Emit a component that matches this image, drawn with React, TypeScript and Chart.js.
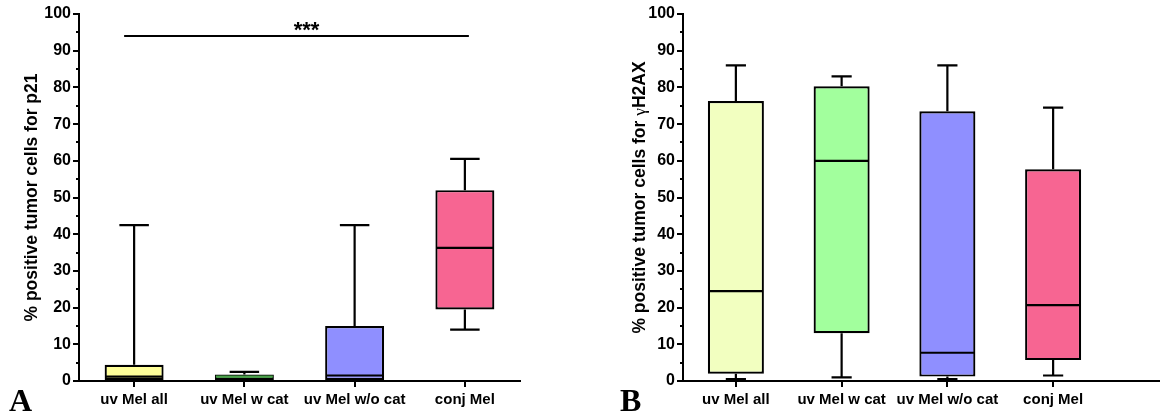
import React, { useEffect, useRef } from 'react';
import { Chart, registerables } from 'chart.js';
Chart.register(...registerables);

const categories = ['uv Mel all', 'uv Mel w cat', 'uv Mel w/o cat', 'conj Mel'];

// Panel A: p21
const p21Min = [0, 0, 0, 14];
const p21Q1 = [0.2, 0.3, 0.3, 19.5];
const p21Median = [1.2, 1.2, 1.5, 36.3];
const p21Q3 = [4.4, 1.8, 15, 52];
const p21Max = [42.5, 2.5, 42.5, 60.5];

// Panel B: gammaH2AX
const h2axMin = [0.5, 1, 0.5, 1.5];
const h2axQ1 = [2, 13, 1.2, 5.7];
const h2axMedian = [24.5, 60, 7.7, 20.7];
const h2axQ3 = [76.3, 80.3, 73.5, 57.7];
const h2axMax = [86, 83, 86, 74.5];

const yTicks = [0, 10, 20, 30, 40, 50, 60, 70, 80, 90, 100];
const sigLevel = 94;
const sigLabel = '***';

const colorsA = ['#ffff99', '#2f5f2f', '#8f8fff', '#f76592'];
const medianColorsA = ['#000000', '#49a049', '#000000', '#000000'];
const colorsB = ['#f2ffc0', '#a2ff9d', '#8f8fff', '#f76592'];
const medianColorsB = ['#000000', '#000000', '#000000', '#000000'];

const FONT = '"Liberation Sans", Arial, Helvetica, sans-serif';

type Opts = {
  min: number[]; q1: number[]; med: number[]; q3: number[]; max: number[];
  colors: string[]; medColors: string[]; capFrac: number;
  titleParts: { text: string; bold: boolean; family?: string }[];
  titleSize: number;
  titleX: number; yAxisWidth: number; padRight: number; extendAxis: boolean;
  sig: boolean; barPct: number;
};

function boxPlugin(o: Opts) {
  return {
    id: 'boxExtras',
    afterDatasetsDraw(chart: any) {
      const { ctx, scales } = chart;
      const x = scales.x, y = scales.y;
      const meta = chart.getDatasetMeta(0);
      ctx.save();
      ctx.lineWidth = 2.2;
      ctx.lineCap = 'butt';
      meta.data.forEach((bar: any, i: number) => {
        const cx = x.getPixelForValue(i);
        const w = bar.width;
        const capW = w * o.capFrac;
        const yq1 = y.getPixelForValue(o.q1[i]);
        const yq3 = y.getPixelForValue(o.q3[i]);
        const ymin = y.getPixelForValue(o.min[i]);
        const ymax = y.getPixelForValue(o.max[i]);
        const ymed = y.getPixelForValue(o.med[i]);
        ctx.strokeStyle = '#000';
        ctx.beginPath();
        ctx.moveTo(cx, yq3); ctx.lineTo(cx, ymax);
        ctx.moveTo(cx - capW / 2, ymax); ctx.lineTo(cx + capW / 2, ymax);
        ctx.moveTo(cx, yq1); ctx.lineTo(cx, ymin);
        ctx.moveTo(cx - capW / 2, ymin); ctx.lineTo(cx + capW / 2, ymin);
        ctx.stroke();
        ctx.strokeStyle = o.medColors[i];
        ctx.beginPath();
        ctx.moveTo(cx - w / 2 + 1, ymed); ctx.lineTo(cx + w / 2 - 1, ymed);
        ctx.stroke();
      });
      ctx.restore();
    },
    afterDraw(chart: any) {
      const { ctx, scales, chartArea, width } = chart;
      const x = scales.x, y = scales.y;
      ctx.save();
      ctx.strokeStyle = '#000';
      ctx.lineWidth = 2;
      // minor ticks
      ctx.beginPath();
      for (let v = 5; v < 100; v += 10) {
        const py = Math.round(y.getPixelForValue(v));
        ctx.moveTo(chartArea.left, py);
        ctx.lineTo(chartArea.left - 3, py);
      }
      ctx.stroke();
      if (o.extendAxis) {
        const py = y.getPixelForValue(0);
        ctx.beginPath();
        ctx.moveTo(chartArea.right - 1, py);
        ctx.lineTo(width, py);
        ctx.stroke();
      }
      if (o.sig) {
        const x0 = x.getPixelForValue(0) - 10;
        const x3 = x.getPixelForValue(3) + 4;
        const py = y.getPixelForValue(sigLevel);
        ctx.beginPath();
        ctx.moveTo(x0, py); ctx.lineTo(x3, py);
        ctx.stroke();
        ctx.fillStyle = '#000';
        ctx.font = 'bold 22px ' + FONT;
        ctx.textAlign = 'center';
        ctx.textBaseline = 'middle';
        ctx.fillText(sigLabel, (x0 + x3) / 2 + 10, py - 5);
      }
      // y title
      ctx.translate(o.titleX, (chartArea.top + chartArea.bottom) / 2);
      ctx.rotate(-Math.PI / 2);
      ctx.fillStyle = '#000';
      ctx.textBaseline = 'middle';
      ctx.textAlign = 'left';
      const fontFor = (p: any) => (p.bold ? 'bold ' : '') + o.titleSize + 'px ' + (p.family || FONT);
      let total = 0;
      o.titleParts.forEach((p) => { ctx.font = fontFor(p); total += ctx.measureText(p.text).width; });
      let cur = -total / 2;
      o.titleParts.forEach((p) => {
        ctx.font = fontFor(p);
        ctx.fillText(p.text, cur, 0);
        cur += ctx.measureText(p.text).width;
      });
      ctx.restore();
    },
  };
}

function BoxChart({ o, w, h }: { o: Opts; w: number; h: number }) {
  const ref = useRef<HTMLCanvasElement>(null);
  useEffect(() => {
    if (!ref.current) return;
    const chart = new Chart(ref.current, {
      type: 'bar',
      data: {
        labels: categories,
        datasets: [{
          data: o.q1.map((v, i) => [v, o.q3[i]]) as any,
          backgroundColor: o.colors,
          borderColor: '#000',
          borderWidth: 2.2,
          borderSkipped: false,
          barPercentage: o.barPct,
          categoryPercentage: 1,
          clip: false as any,
        }],
      },
      options: {
        responsive: false,
        animation: false,
        devicePixelRatio: 1,
        layout: { padding: { left: 0, right: o.padRight, top: 14, bottom: 0 } },
        plugins: { legend: { display: false }, tooltip: { enabled: false } },
        scales: {
          x: {
            offset: true,
            grid: { drawOnChartArea: false, offset: false, tickLength: 6, color: '#000', lineWidth: 2 },
            border: { display: true, color: '#000', width: 2 },
            ticks: { color: '#000', font: { family: FONT, size: 15, weight: 'bold' }, padding: 4, maxRotation: 0, autoSkip: false },
            afterFit: (s: any) => { s.height = 35; },
          },
          y: {
            min: 0, max: 100,
            afterBuildTicks: (s: any) => { s.ticks = yTicks.map((v) => ({ value: v })); },
            grid: { drawOnChartArea: false, tickLength: 6, color: '#000', lineWidth: 2 },
            border: { display: true, color: '#000', width: 2 },
            ticks: { color: '#000', font: { family: FONT, size: 16, weight: 'bold' }, padding: 2 },
            afterFit: (s: any) => { s.width = o.yAxisWidth; },
          },
        },
      },
      plugins: [boxPlugin(o)],
    });
    return () => chart.destroy();
  }, []);
  return <canvas ref={ref} width={w} height={h} style={{ width: w, height: h, display: 'block' }} />;
}

const optsA: Opts = {
  min: p21Min, q1: p21Q1, med: p21Median, q3: p21Q3, max: p21Max,
  colors: colorsA, medColors: medianColorsA, capFrac: 0.5,
  titleParts: [{ text: '% positive tumor cells for p21', bold: true }],
  titleSize: 17.5,
  titleX: 32, yAxisWidth: 79, padRight: 5, extendAxis: false, sig: true, barPct: 0.535,
};

const optsB: Opts = {
  min: h2axMin, q1: h2axQ1, med: h2axMedian, q3: h2axQ3, max: h2axMax,
  colors: colorsB, medColors: medianColorsB, capFrac: 0.36,
  titleParts: [
    { text: '% positive tumor cells for ', bold: true },
    { text: 'γ', bold: false, family: '"Liberation Serif", serif' },
    { text: 'H2AX', bold: true },
  ],
  titleSize: 17.5,
  titleX: 60, yAxisWidth: 103, padRight: 54, extendAxis: true, sig: false, barPct: 0.53,
};

const letterStyle: React.CSSProperties = {
  position: 'absolute', fontFamily: '"Liberation Serif", "Times New Roman", serif',
  fontWeight: 'bold', fontSize: 32, lineHeight: '32px', color: '#000',
};

export default function App() {
  return (
    <div style={{ position: 'absolute', left: 0, top: 0, width: 1160, height: 416, background: '#fff', overflow: 'hidden' }}>
      <div style={{ position: 'absolute', left: 0, top: 0 }}>
        <BoxChart o={optsA} w={525} h={416} />
      </div>
      <div style={{ position: 'absolute', left: 580, top: 0 }}>
        <BoxChart o={optsB} w={580} h={416} />
      </div>
      <div style={{ ...letterStyle, left: 9, top: 384 }}>A</div>
      <div style={{ ...letterStyle, left: 620, top: 384 }}>B</div>
    </div>
  );
}
